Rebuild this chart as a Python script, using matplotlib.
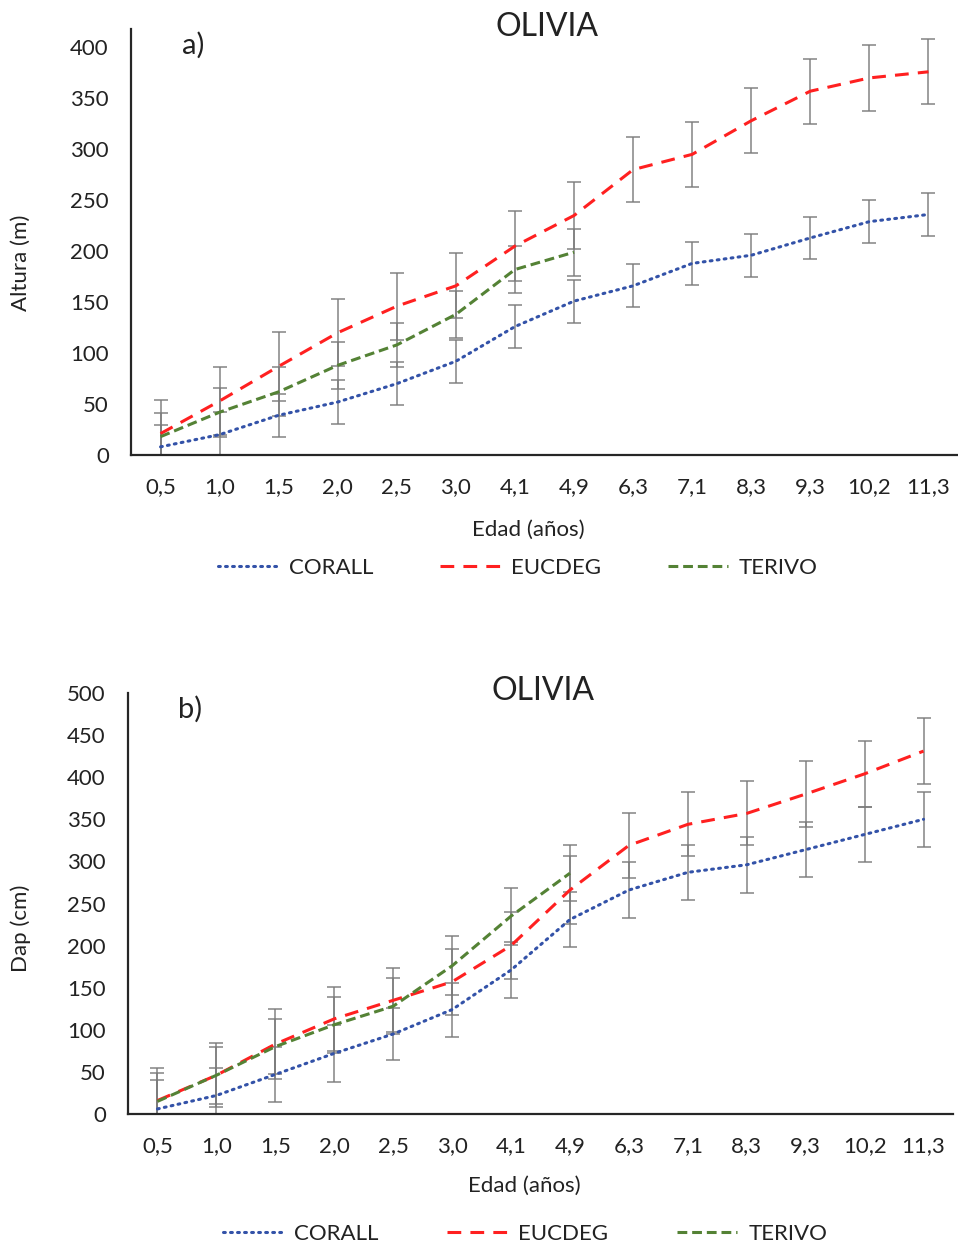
import numpy as np
import matplotlib
matplotlib.use("Agg")
import matplotlib.pyplot as plt

plt.rcParams['font.family'] = ['Lato', 'DejaVu Sans']

edad = ["0,5", "1,0", "1,5", "2,0", "2,5", "3,0", "4,1", "4,9",
        "6,3", "7,1", "8,3", "9,3", "10,2", "11,3"]

# altura
alt_corall = [8, 20, 39, 52, 70, 92, 126, 151, 166, 188, 196, 213, 229, 236]
alt_corall_err = [21, 22, 21, 22, 21, 21, 21, 21, 21, 21, 21, 21, 21, 21]
alt_eucdeg = [21, 53, 87, 120, 146, 166, 205, 235, 280, 295, 328, 357, 370, 376]
alt_eucdeg_err = [33, 33, 34, 33, 33, 32, 34, 33, 32, 32, 32, 32, 32, 32]
alt_terivo = [18, 42, 62, 88, 108, 138, 182, 199]
alt_terivo_err = [23, 24, 24, 23, 22, 23, 23, 23]

# dap
dap_corall = [6, 22, 47, 72, 95, 124, 171, 231, 266, 287, 296, 314, 332, 350]
dap_corall_err = [34, 33, 33, 34, 31, 32, 33, 33, 33, 33, 33, 33, 33, 33]
dap_eucdeg = [16, 46, 83, 113, 135, 157, 200, 266, 319, 344, 357, 380, 404, 431]
dap_eucdeg_err = [39, 38, 42, 38, 38, 39, 40, 40, 39, 38, 38, 39, 39, 39]
dap_terivo = [15, 46, 80, 106, 128, 176, 235, 286]
dap_terivo_err = [34, 34, 33, 33, 33, 35, 34, 33]

BLUE = "#3352a8"
RED = "#ff2020"
GREEN = "#548235"
ERR = "#7a7a7a"
AX = "#262626"
TXT = "#222222"
FS = 16

styles = {
    "CORALL": dict(color=BLUE, ls=(0, (0.6, 1.7)), dash_capstyle="round"),
    "EUCDEG": dict(color=RED, ls=(0, (4.5, 3.0))),
    "TERIVO": dict(color=GREEN, ls=(0, (3.2, 1.6))),
}


def panel(ax, series, ymax, yticks, ylabel, letter, ylab_x, ylab_y, xlab_y):
    x_all = np.arange(len(edad))
    for name, vals, errs in series:
        x = x_all[:len(vals)]
        ax.errorbar(x, vals, yerr=errs, fmt="none", ecolor=ERR, elinewidth=1.2,
                    capsize=5, capthick=1.2, alpha=0.85, zorder=2)
    for name, vals, errs in series:
        x = x_all[:len(vals)]
        ax.plot(x, vals, lw=2.2, label=name, zorder=3, **styles[name])

    ax.set_xlim(-0.5, len(edad) - 0.5)
    ax.set_ylim(0, ymax)
    ax.set_xticks(x_all)
    ax.set_xticklabels(edad)
    ax.set_yticks(yticks)
    ax.tick_params(length=0, labelsize=FS, colors=TXT)
    ax.tick_params(axis="x", pad=16)
    ax.tick_params(axis="y", pad=16)
    for s in ["top", "right"]:
        ax.spines[s].set_visible(False)
    for s in ["left", "bottom"]:
        ax.spines[s].set_color(AX)
        ax.spines[s].set_linewidth(1.6)

    ax.set_ylabel(ylabel, fontsize=FS, color=TXT)
    ax.yaxis.set_label_coords(ylab_x, ylab_y)
    ax.set_xlabel("Edad (años)", fontsize=FS, color=TXT)
    ax.xaxis.set_label_coords(0.48, xlab_y)
    ax.text(0.503, 1.005, "OLIVIA", transform=ax.transAxes, ha="center",
            va="center", fontsize=23, color=TXT)
    ax.text(0.075, 0.962, letter, transform=ax.transAxes, ha="center",
            va="center", fontsize=21, color=TXT)


fig = plt.figure(figsize=(9.58, 12.47), dpi=100)

ax1 = fig.add_axes([131 / 958, 1 - 455 / 1247, 827 / 958, 426 / 1247])
panel(ax1,
      [("CORALL", alt_corall, alt_corall_err),
       ("EUCDEG", alt_eucdeg, alt_eucdeg_err),
       ("TERIVO", alt_terivo, alt_terivo_err)],
      418, np.arange(0, 401, 50), "Altura (m)", "a)", -0.121, 0.45, -0.153)

ax2 = fig.add_axes([128 / 958, 1 - 1114 / 1247, 825 / 958, 421 / 1247])
panel(ax2,
      [("CORALL", dap_corall, dap_corall_err),
       ("EUCDEG", dap_eucdeg, dap_eucdeg_err),
       ("TERIVO", dap_terivo, dap_terivo_err)],
      500, np.arange(0, 501, 50), "Dap (cm)", "b)", -0.118, 0.44, -0.147)

for ax, anchor, gap in [(ax1, (518 / 958, 1 - 568 / 1247), 3.0),
                        (ax2, (525 / 958, 1 - 1234 / 1247), 3.1)]:
    leg = fig.legend(*ax.get_legend_handles_labels(), loc="center",
                     bbox_to_anchor=anchor, ncol=3, frameon=False,
                     fontsize=FS, handlelength=2.7, handletextpad=0.5,
                     columnspacing=gap, borderpad=0)
    for t in leg.get_texts():
        t.set_color(TXT)

fig.savefig("out.png", dpi=100)
